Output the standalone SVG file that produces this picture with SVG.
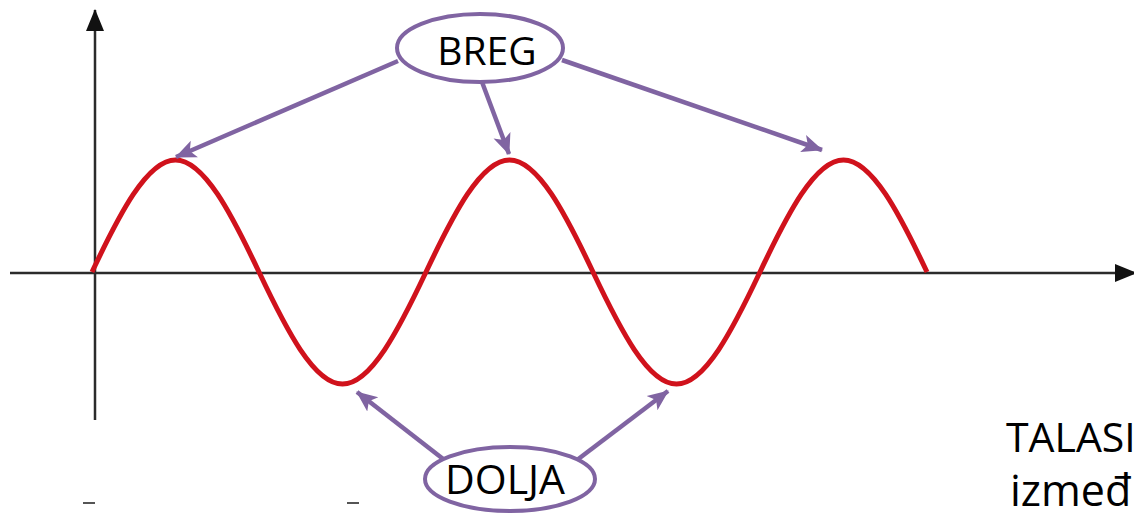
<svg xmlns="http://www.w3.org/2000/svg" width="1134" height="515" viewBox="0 0 1134 515">
<style>
.axis{stroke:#2b2b2b;stroke-width:2.5;fill:none}
.wave{stroke:#d0121c;stroke-width:5;fill:none;stroke-linejoin:round}
.conn{stroke:#8064a2;stroke-width:4.5;fill:none;marker-end:url(#ah)}
.lbl{fill:#fff;stroke:#8064a2;stroke-width:4}
.t{font-family:"Open Sans","Liberation Sans",sans-serif;fill:#000}
</style>
<defs>
<marker id="ah" markerUnits="userSpaceOnUse" markerWidth="22" markerHeight="20" viewBox="0 0 22 20" refX="20" refY="10" orient="auto">
<path d="M0,1 L21,10 L0,19 L5,10 Z" fill="#8064a2"/>
</marker>
<marker id="ax" markerUnits="userSpaceOnUse" markerWidth="22" markerHeight="20" viewBox="0 0 22 20" refX="21" refY="10" orient="auto">
<path d="M0,1 L22,10 L0,19 Z" fill="#111"/>
</marker>
</defs>
<rect width="1134" height="515" fill="#fff"/>
<g id="axes">
<line class="axis" x1="10" y1="273" x2="1136" y2="273" marker-end="url(#ax)"/>
<line class="axis" x1="95" y1="420" x2="95" y2="10" marker-end="url(#ax)"/>
</g>
<g id="wave">
<path class="wave" d="M92,272 c27.2,-57.4 55,-112 83.5,-112 s56.3,54.6 83.5,112 s55,112 83.5,112 s56.3,-54.6 83.5,-112 s55,-112 83.5,-112 s56.3,54.6 83.5,112 s55,112 83.5,112 s56.3,-54.6 83.5,-112 s55,-112 83.5,-112 s56.3,54.6 83.5,112"/>
</g>
<g id="connectors">
<line class="conn" x1="398" y1="61" x2="176" y2="157"/>
<line class="conn" x1="482" y1="82" x2="509" y2="154"/>
<line class="conn" x1="562" y1="60" x2="822" y2="150"/>
<line class="conn" x1="447" y1="462" x2="357" y2="392"/>
<line class="conn" x1="577" y1="460" x2="668" y2="391"/>
</g>
<g id="breg">
<ellipse class="lbl" cx="480" cy="48" rx="83" ry="34"/>
<text class="t" x="487" y="65" font-size="39" text-anchor="middle">BREG</text>
</g>
<g id="dolja">
<ellipse class="lbl" cx="510" cy="479" rx="85" ry="32"/>
<text class="t" x="505" y="494" font-size="41" text-anchor="middle">DOLJA</text>
</g>
<g id="note">
<text class="t" x="1006" y="452" font-size="41">TALASI</text>
<text class="t" x="1010" y="506" font-size="43">između</text>
</g>
<g id="marks" stroke="#555" stroke-width="2">
<line x1="83" y1="503" x2="95" y2="503"/>
<line x1="347" y1="503" x2="359" y2="503"/>
</g>
</svg>
